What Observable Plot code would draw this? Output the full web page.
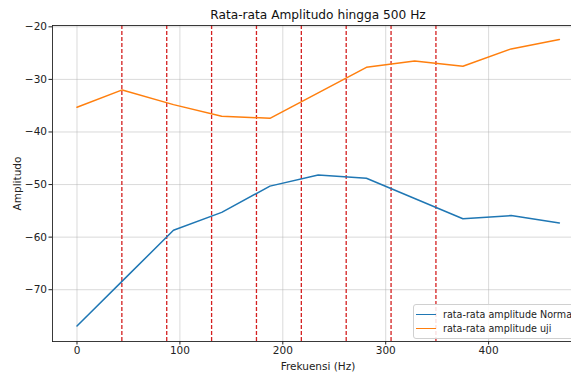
<!DOCTYPE html>
<html>
<head>
<meta charset="utf-8">
<script src="https://cdn.jsdelivr.net/npm/d3@7"></script>
<script src="https://cdn.jsdelivr.net/npm/@observablehq/plot@0.6"></script>
<style>
  html, body { margin: 0; padding: 0; background: #fff; }
  #wrap { position: relative; width: 571px; height: 372px; overflow: hidden; font-family: "DejaVu Sans", sans-serif; }
  #legend { position: absolute; left: 413px; top: 304px; width: 180px; height: 33px; border: 1px solid #d0d0d0; border-radius: 3px; background: rgba(255,255,255,0.85); font-size: 9.6px; color: #222; }
  .row { position: absolute; left: 0; height: 14px; display: flex; align-items: center; }
  .sw { width: 20px; height: 0; border-top: 1.5px solid; margin-left: 2px; margin-right: 7px; }
</style>
</head>
<body>
<div id="wrap"></div>
<script>
// ---- data ----
const freqNormal = [0, 46.875, 93.75, 140.625, 187.5, 234.375, 281.25, 328.125, 375, 421.875, 468.75];
const ampNormal  = [-76.9, -67.8, -58.7, -55.3, -50.3, -48.2, -48.8, -52.65, -56.5, -55.9, -57.3];
const freqUji    = [0, 44, 93.75, 140.625, 187.5, 234.375, 281.25, 328.125, 375, 421.875, 468.75];
const ampUji     = [-35.3, -32.0, -34.8, -37.0, -37.4, -32.55, -27.7, -26.5, -27.5, -24.2, -22.4];
const harmonics  = [43.6, 87.2, 130.8, 174.4, 218.0, 261.6, 305.2, 348.8];
const xTicks = [0, 100, 200, 300, 400];
const yTicks = [-20, -30, -40, -50, -60, -70];
const seriesNames = ["rata-rata amplitude Normal", "rata-rata amplitude uji"];
const seriesColors = ["#1f77b4", "#ff7f0e"];
const titleText = "Rata-rata Amplitudo hingga 500 Hz";

const normal = freqNormal.map((f, i) => ({f, a: ampNormal[i]}));
const uji = freqUji.map((f, i) => ({f, a: ampUji[i]}));

const chart = Plot.plot({
  width: 583,
  height: 372,
  marginLeft: 52,
  marginRight: 0,
  marginTop: 25,
  marginBottom: 31,
  style: {fontFamily: "DejaVu Sans, sans-serif", fontSize: "10.5px", color: "#222", background: "#fff", maxWidth: "none"},
  x: {domain: [-23.8, 492.2], ticks: xTicks},
  y: {domain: [-79.85, -19.75], ticks: yTicks},
  marks: [
    Plot.gridX(xTicks, {stroke: "#b0b0b0", strokeOpacity: 0.6, strokeWidth: 0.8}),
    Plot.gridY(yTicks, {stroke: "#b0b0b0", strokeOpacity: 0.6, strokeWidth: 0.8}),
    Plot.ruleX(harmonics, {stroke: "#d42020", strokeWidth: 1.3, strokeDasharray: "4,2"}),
    Plot.line(normal, {x: "f", y: "a", stroke: seriesColors[0], strokeWidth: 1.5}),
    Plot.line(uji, {x: "f", y: "a", stroke: seriesColors[1], strokeWidth: 1.5}),
    Plot.frame({anchor: "left", stroke: "#222", strokeWidth: 0.9}),
    Plot.frame({anchor: "bottom", stroke: "#222", strokeWidth: 0.9}),
    Plot.frame({anchor: "top", stroke: "#222", strokeWidth: 0.9}),
    Plot.axisX({ticks: xTicks, tickSize: 3.5, tickPadding: 2, tickFormat: d3.format("d"),
      label: "Frekuensi (Hz)", labelAnchor: "center", labelArrow: "none", labelOffset: 28}),
    Plot.axisY({ticks: yTicks, tickSize: 3.5, tickPadding: 2, tickFormat: d3.format("d"),
      label: "Amplitudo", labelAnchor: "center", labelArrow: "none", labelOffset: 39}),
    Plot.text([titleText], {frameAnchor: "top", lineAnchor: "middle", dy: -10, text: d => d, fontSize: 12.2, fill: "#111"})
  ]
});
chart.style.display = "block";
document.getElementById("wrap").appendChild(chart);

const leg = document.createElement("div");
leg.id = "legend";
seriesNames.forEach((name, i) => {
  const row = document.createElement("div");
  row.className = "row";
  row.style.top = (2 + i * 14) + "px";
  const sw = document.createElement("span");
  sw.className = "sw";
  sw.style.borderTopColor = seriesColors[i];
  const t = document.createElement("span");
  t.textContent = name;
  row.appendChild(sw); row.appendChild(t);
  leg.appendChild(row);
});
document.getElementById("wrap").appendChild(leg);
</script>
</body>
</html>
